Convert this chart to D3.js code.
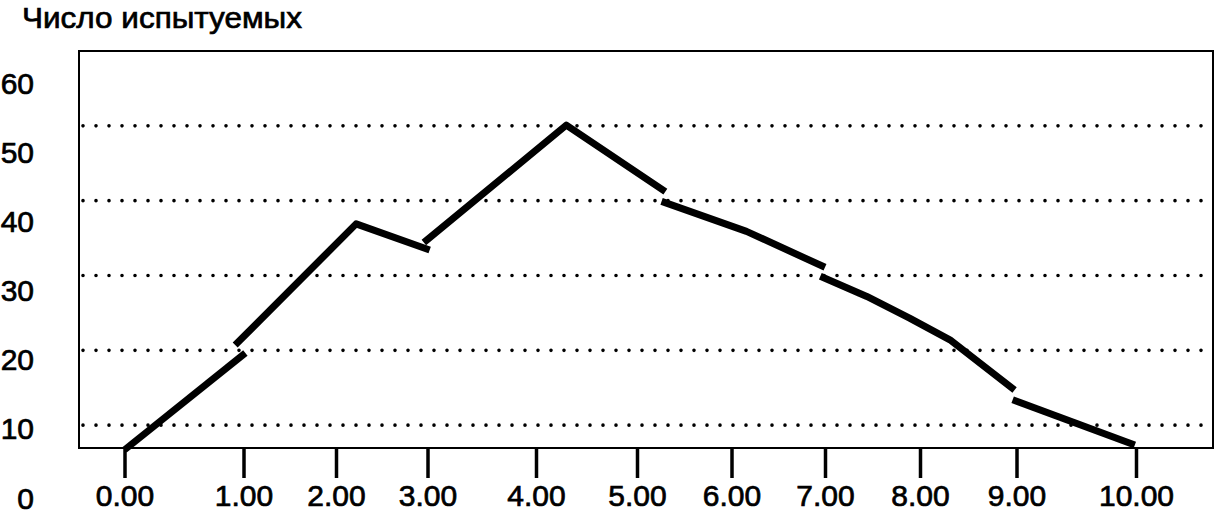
<!DOCTYPE html>
<html><head><meta charset="utf-8">
<script src="https://cdn.jsdelivr.net/npm/d3@7"></script>
<style>body{margin:0;background:#fff}svg{display:block}</style></head>
<body><svg id="c" width="1218" height="514"></svg>
<script>
// ---- data ----
const titleText = "Число испытуемых";
const xTicks = [0, 1, 2, 3, 4, 5, 6, 7, 8, 9, 10];
const xTickLabels = ["0.00", "1.00", "2.00", "3.00", "4.00", "5.00", "6.00", "7.00", "8.00", "9.00", "10.00"];
const yTicks = [0, 10, 20, 30, 40, 50, 60];
const yTickLabels = ["0", "10", "20", "30", "40", "50", "60"];
const gridValues = [10, 20, 30, 40, 50];
// the curve is drawn as separate, slightly offset pieces
const segX = [[0.00, 1.02], [0.93, 2.22, 3.02], [2.96, 4.30, 5.30], [5.26, 6.16, 7.00], [6.95, 7.44, 7.89, 8.31, 8.98], [8.96, 9.99]];
const segY = [[6.7, 19.65], [20.7, 36.9, 33.4], [34.4, 50.1, 41.2], [39.9, 35.9, 31.1], [29.9, 27.2, 24.3, 21.4, 14.7], [13.4, 7.35]];

// ---- layout ----
const W = 1218, H = 514;
const boxLeft = 79, boxRight = 1213, boxBottom = 448;
const tickPx = [124.5, 243.5, 336, 427.5, 536, 637, 731.5, 825, 920, 1016.5, 1136]; // uneven spacing of the original axis
const svg = d3.select("#c");
const font = "'Liberation Sans', Arial, sans-serif";

const x = d3.scaleLinear().domain(xTicks).range(tickPx);
const y = d3.scaleLinear().domain([0, 60]).range([500, 51]);
const yLab = d3.scaleLinear().domain([0, 60]).range([498, 83]);

// gridlines
svg.append("g").selectAll("line").data(gridValues).join("line")
  .attr("x1", boxLeft + 4).attr("x2", boxRight - 2)
  .attr("y1", d => y(d)).attr("y2", d => y(d))
  .attr("stroke", "#000").attr("stroke-width", 3.6)
  .attr("stroke-linecap", "round").attr("stroke-dasharray", "0,13");

// frame
svg.append("rect")
  .attr("x", boxLeft).attr("y", y(60))
  .attr("width", boxRight - boxLeft).attr("height", boxBottom - y(60))
  .attr("fill", "none").attr("stroke", "#000").attr("stroke-width", 2);

// y labels
svg.append("g").selectAll("text").data(yTicks).join("text")
  .attr("x", 34).attr("y", d => yLab(d))
  .attr("text-anchor", "end").attr("dominant-baseline", "central")
  .attr("font-family", font).attr("font-size", 30).attr("fill", "#000")
  .attr("stroke", "#000").attr("stroke-width", 0.7)
  .text((d, i) => yTickLabels[i]);

// x axis
const xAxis = d3.axisBottom(x).tickValues(xTicks).tickFormat((d, i) => xTickLabels[i]).tickSize(30);
const gx = svg.append("g").attr("transform", `translate(0,${boxBottom})`).call(xAxis);
gx.select(".domain").remove();
gx.selectAll(".tick line").attr("stroke", "#000").attr("stroke-width", 3.5);
gx.selectAll(".tick text").attr("y", 58).attr("dy", 0)
  .attr("font-family", font).attr("font-size", 30).attr("fill", "#000")
  .attr("stroke", "#000").attr("stroke-width", 0.7);

// curve pieces
const line = d3.line().x(d => x(d[0])).y(d => y(d[1]));
svg.append("g").selectAll("path").data(segX.map((xs, i) => xs.map((v, j) => [v, segY[i][j]]))).join("path")
  .attr("d", line).attr("fill", "none").attr("stroke", "#000")
  .attr("stroke-width", 7).attr("stroke-linejoin", "round").attr("stroke-linecap", "butt");

// title
svg.append("text").attr("x", 22).attr("y", 28)
  .attr("font-family", font).attr("font-size", 30).attr("fill", "#000")
  .attr("stroke", "#000").attr("stroke-width", 0.7)
  .attr("textLength", 280).attr("lengthAdjust", "spacingAndGlyphs")
  .text(titleText);
</script></body></html>
